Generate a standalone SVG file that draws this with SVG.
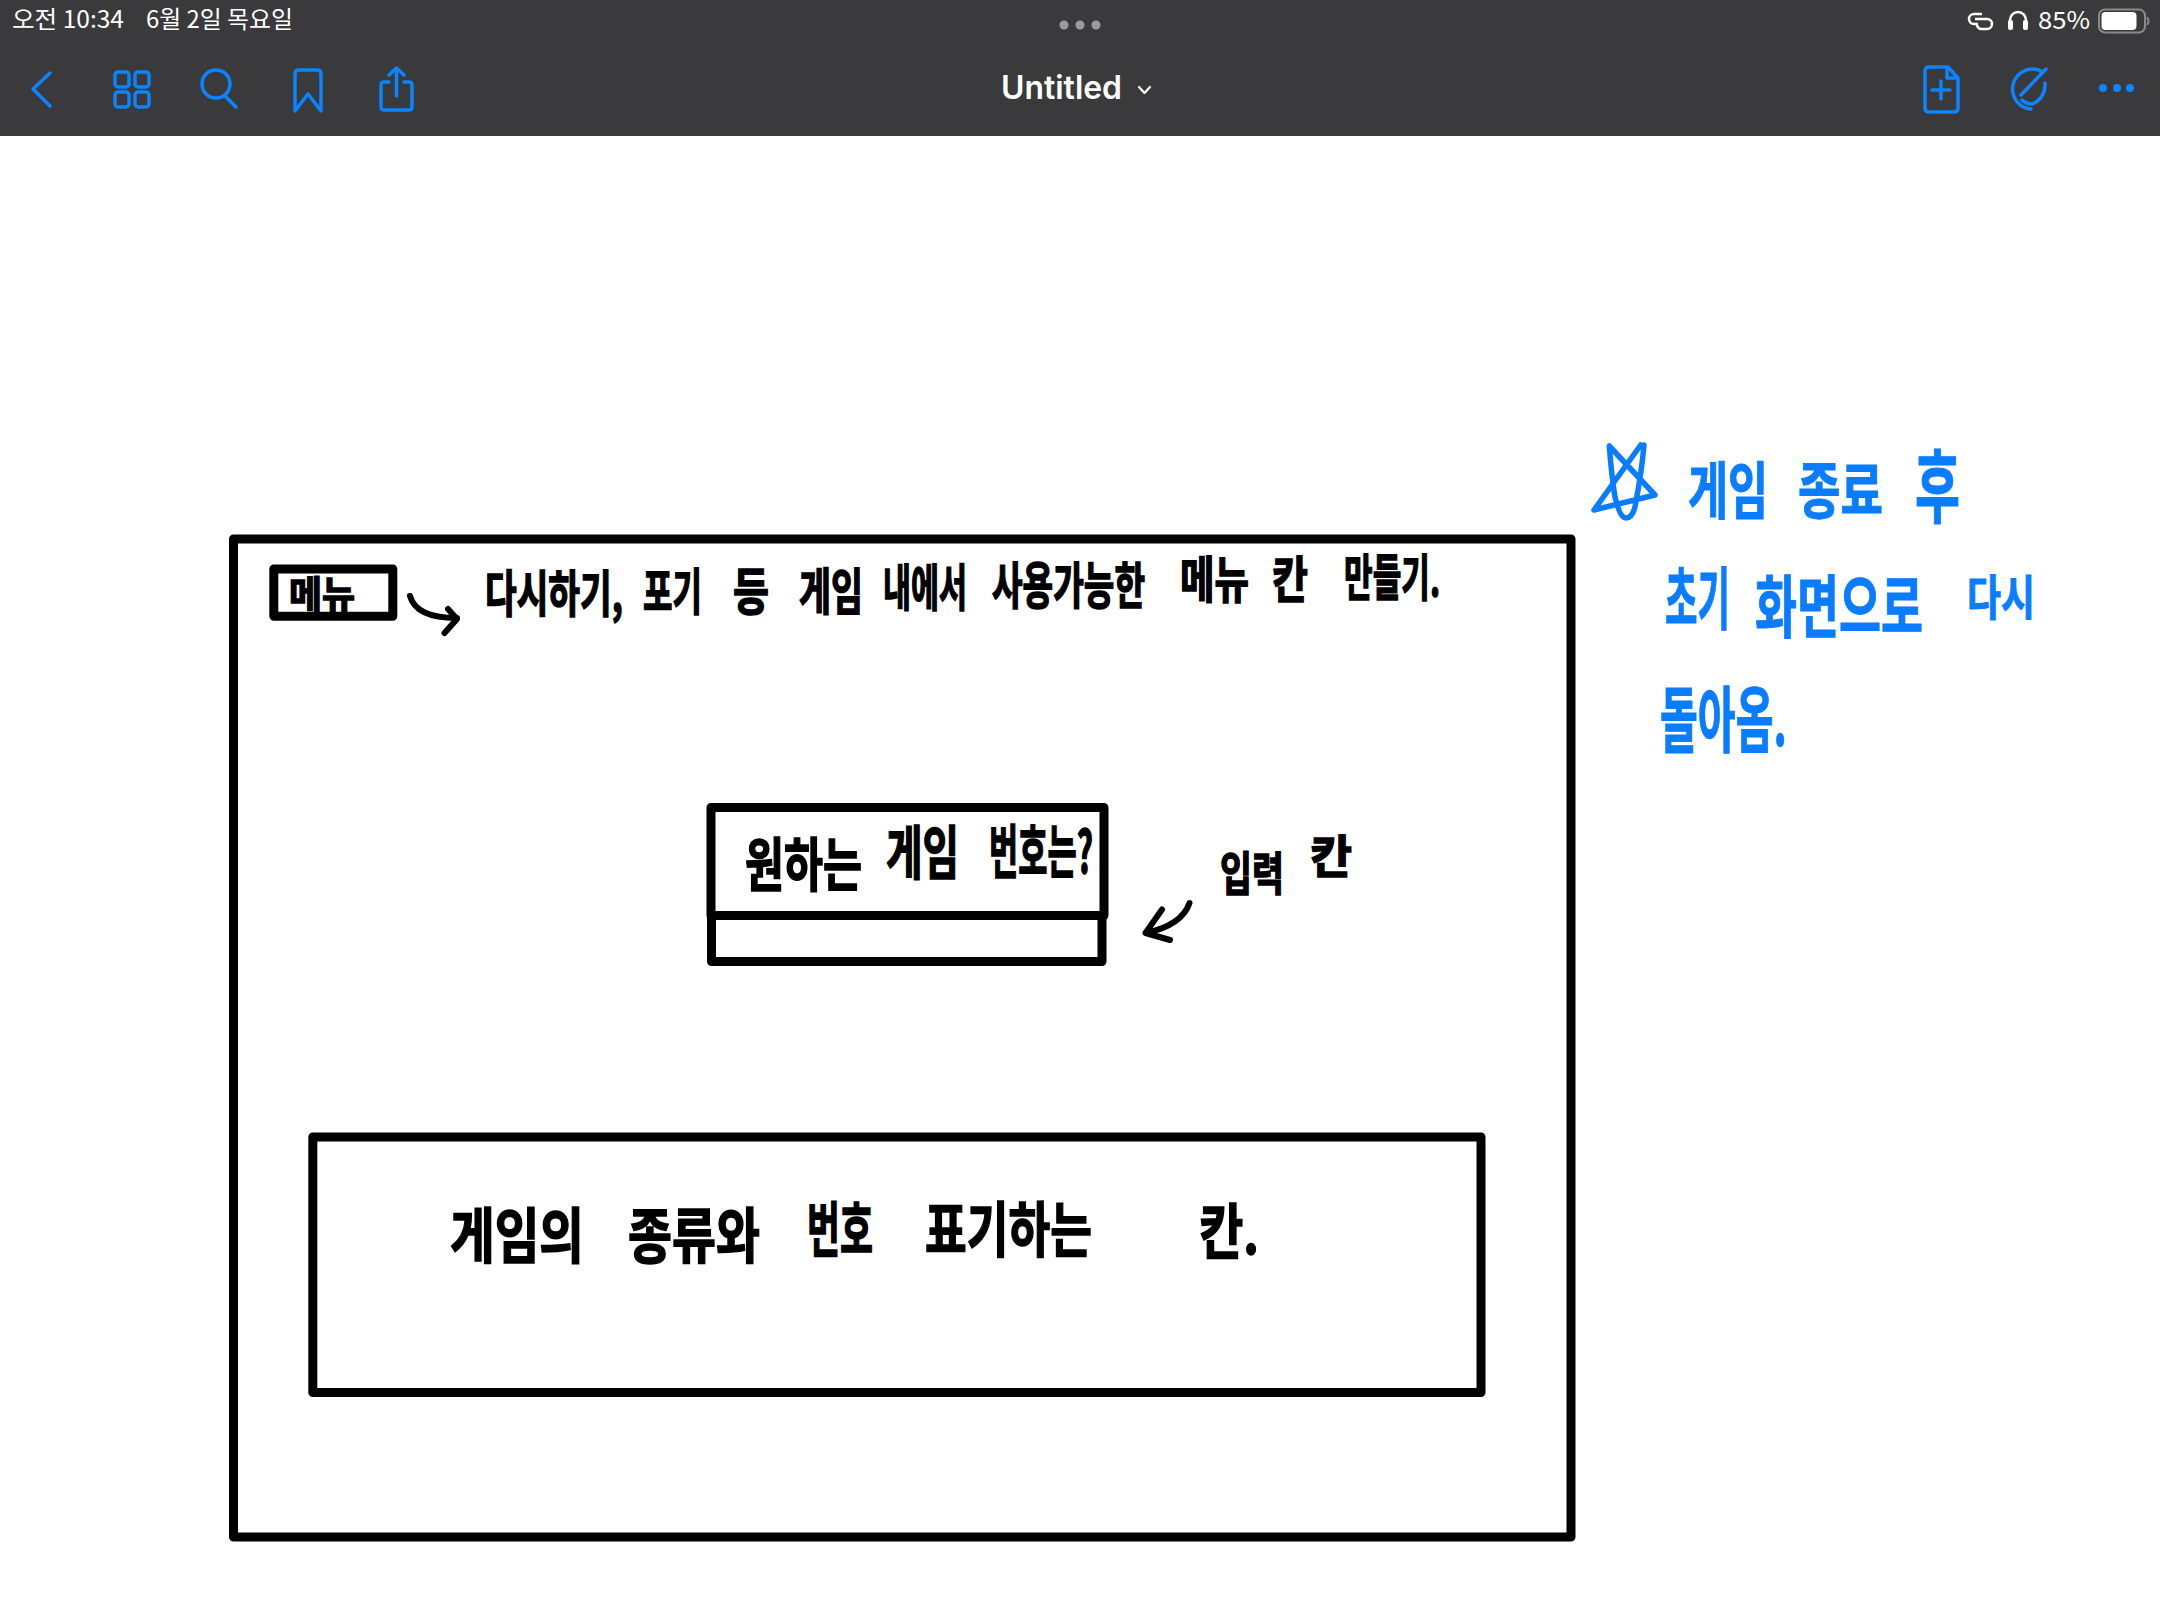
<svg xmlns="http://www.w3.org/2000/svg" width="2160" height="1620" viewBox="0 0 2160 1620">
<style>
.box{fill:none;stroke:#000;stroke-width:9;stroke-linejoin:round}
.ink{fill:#000;stroke:#000;stroke-width:1.5;font-family:"Noto Sans CJK KR","Noto Sans",sans-serif;font-weight:700}
.blue{fill:#0a7cff;stroke:#0a7cff;stroke-width:1;font-family:"Noto Sans CJK KR","Noto Sans",sans-serif;font-weight:700}
.pen{fill:none;stroke:#000;stroke-width:6;stroke-linecap:round;stroke-linejoin:round}
.bpen{fill:none;stroke:#0a7cff;stroke-width:5.5;stroke-linecap:round;stroke-linejoin:round}
.ico{fill:none;stroke:#0a84ff;stroke-width:3.5;stroke-linecap:round;stroke-linejoin:round}
.st{fill:#fff;font-family:"Noto Sans CJK KR",Inter,sans-serif;font-size:24px}
</style>
<rect width="2160" height="1620" fill="#fff"/>
<g id="toolbar">
<rect width="2160" height="136" fill="#3a3a3c"/>
<text class="st" y="28"><tspan x="12" textLength="112" lengthAdjust="spacingAndGlyphs">오전 10:34</tspan><tspan x="146" textLength="147" lengthAdjust="spacingAndGlyphs">6월 2일 목요일</tspan></text>
<g fill="#9b9b9d"><circle cx="1064" cy="25" r="4.5"/><circle cx="1080" cy="25" r="4.5"/><circle cx="1096" cy="25" r="4.5"/></g>
<path class="ico" d="M50 73 33 89 50 106"/>
<g class="ico"><rect x="115" y="72" width="14" height="15" rx="3"/><rect x="135" y="72" width="14" height="15" rx="3"/><rect x="115" y="92" width="14" height="15" rx="3"/><rect x="135" y="92" width="14" height="15" rx="3"/></g>
<circle class="ico" cx="216" cy="84" r="14"/><path class="ico" d="M225 96 236 107"/>
<path class="ico" d="M295 111V74q0-4 4-4h18q4 0 4 4V111L308 94Z"/>
<path class="ico" d="M389 82h-5q-3 0-3 3v22q0 3 3 3h25q3 0 3-3V85q0-3-3-3h-5M396.500 96V68M389 75l7.500-7 7.500 7"/>
<text x="1001" y="99" textLength="121" lengthAdjust="spacingAndGlyphs" font-family="Inter,Roboto,sans-serif" font-size="32" font-weight="600" fill="#fff">Untitled</text>
<path d="M1139 87l5.500 6 5.500-6" fill="none" stroke="#fff" stroke-width="2.200" stroke-linecap="round" stroke-linejoin="round"/>
<g fill="none" stroke="#fff" stroke-width="2.500"><path d="M1982 14h-8a5 5 0 0 0 0 10h4"/><path d="M1975 19h12a5 5 0 0 1 0 10h-6a5 5 0 0 1-4-4"/><path d="M2010 27v-7a8 8 0 0 1 16 0v7"/></g>
<g fill="#fff"><rect x="2008" y="20" width="5" height="10" rx="2"/><rect x="2023" y="20" width="5" height="10" rx="2"/></g>
<text class="st" x="2038" y="29" textLength="52" lengthAdjust="spacingAndGlyphs" font-family="Inter,sans-serif">85%</text>
<rect x="2099" y="9.500" width="46" height="23" rx="6" fill="none" stroke="#8a8a8c" stroke-width="2"/>
<rect x="2101.500" y="12" width="35" height="18" rx="4" fill="#fff"/>
<path d="M2147 17q3 4 0 8" fill="none" stroke="#8a8a8c" stroke-width="2"/>
<path class="ico" d="M1948 67h-19q-4 0-4 4v37q0 4 4 4h25q4 0 4-4V78ZM1947 67v11h11M1941 81v18M1932 90h18"/>
<path class="ico" d="M2043 72A20 20 0 1 0 2031 109M2045 83A20 20 0 0 1 2032 104q-6 0-10-4M2046 69 2021 95"/>
<g fill="#0a84ff"><circle cx="2103" cy="88" r="4"/><circle cx="2117" cy="88" r="4"/><circle cx="2130" cy="88" r="4"/></g>
</g>
<g id="connectors">
<path class="pen" d="M410 596Q416 618 457 618M448 609 457 619 444.500 633"/>
<path class="pen" d="M1189.500 903Q1182 925 1146 933M1162 909.500 1145.500 933 1170 940"/>
</g>
<g id="screen"><rect class="box" x="233.500" y="539" width="1337.500" height="998"/></g>
<g id="menu">
<rect class="box" x="273.800" y="569" width="119" height="47.300"/>
<text class="ink" font-size="38"><tspan x="289" y="608" textLength="66" lengthAdjust="spacingAndGlyphs">메뉴</tspan></text>
</g>
<g id="menu-note">
<text class="ink" font-size="50" transform="scale(0.68 1)">
<tspan x="713.200" y="612" textLength="202.900" lengthAdjust="spacingAndGlyphs">다시하기,</tspan>
<tspan x="945.600" y="610" textLength="86.800" lengthAdjust="spacingAndGlyphs">포기</tspan>
<tspan x="1077.900" y="610" textLength="52.900" lengthAdjust="spacingAndGlyphs">등</tspan>
<tspan x="1175" y="610" textLength="94.100" lengthAdjust="spacingAndGlyphs">게임</tspan>
<tspan x="1298.500" y="606" textLength="123.500" lengthAdjust="spacingAndGlyphs">내에서</tspan>
<tspan x="1458.800" y="604" textLength="225" lengthAdjust="spacingAndGlyphs">사용가능한</tspan>
<tspan x="1735.300" y="598" textLength="101.500" lengthAdjust="spacingAndGlyphs">메뉴</tspan>
<tspan x="1870.600" y="598" textLength="52.900" lengthAdjust="spacingAndGlyphs">칸</tspan>
<tspan x="1976.500" y="596" textLength="141.200" lengthAdjust="spacingAndGlyphs">만들기.</tspan>
</text>
</g>
<g id="question">
<path class="box" d="M711 807.500H1104V915.500H711Z"/>
<text class="ink" font-size="58" transform="scale(0.66 1)">
<tspan x="1128.800" y="886" textLength="177.300" lengthAdjust="spacingAndGlyphs">원하는</tspan>
<tspan x="1342.400" y="874" textLength="110.600" lengthAdjust="spacingAndGlyphs">게임</tspan>
<tspan x="1498.500" y="873" textLength="157.600" lengthAdjust="spacingAndGlyphs">번호는?</tspan>
</text>
</g>
<g id="input"><path class="box" d="M711.500 915.500V961.500H1102V915.500"/></g>
<g id="input-note">
<text class="ink" font-size="46">
<tspan x="1220" y="890" textLength="64" lengthAdjust="spacingAndGlyphs">입력</tspan>
<tspan x="1310" y="873" textLength="42" lengthAdjust="spacingAndGlyphs">칸</tspan>
</text>
</g>
<g id="list">
<rect class="box" x="312.800" y="1137" width="1168.200" height="255.500"/>
<text class="ink" font-size="60">
<tspan x="450" y="1258" textLength="134" lengthAdjust="spacingAndGlyphs">게임의</tspan>
<tspan x="628" y="1258" textLength="132" lengthAdjust="spacingAndGlyphs">종류와</tspan>
<tspan x="807" y="1252" textLength="66" lengthAdjust="spacingAndGlyphs">번호</tspan>
<tspan x="925" y="1252" textLength="167" lengthAdjust="spacingAndGlyphs">표기하는</tspan>
<tspan x="1199" y="1254" textLength="60" lengthAdjust="spacingAndGlyphs">칸.</tspan>
</text>
</g>
<g id="end-note">
<path class="bpen" d="M1640.700 445 1594 510 1655 495 1609.300 446Q1612 480 1615 497 1620 518 1626 518 1632 518 1635 507 1642 470 1644 445"/>
<text class="blue" font-size="62" transform="scale(0.8 1)">
<tspan x="2110" y="514" textLength="100" lengthAdjust="spacingAndGlyphs">게임</tspan>
<tspan x="2247.500" y="514" textLength="106.250" lengthAdjust="spacingAndGlyphs">종료</tspan>
<tspan x="2393.750" y="516" textLength="56.250" font-size="80" lengthAdjust="spacingAndGlyphs">후</tspan>
</text>
<text class="blue" font-size="68" transform="scale(0.7 1)">
<tspan x="2378.600" y="624" textLength="92.900" lengthAdjust="spacingAndGlyphs">초기</tspan>
<tspan x="2507.100" y="632" textLength="240" lengthAdjust="spacingAndGlyphs">화면으로</tspan>
<tspan x="2810" y="615" font-size="48" textLength="97.100" lengthAdjust="spacingAndGlyphs">다시</tspan>
</text>
<text class="blue" font-size="72" transform="scale(0.65 1)" x="2553.800" y="746" textLength="195.400" lengthAdjust="spacingAndGlyphs">돌아옴.</text>
</g>
</svg>
